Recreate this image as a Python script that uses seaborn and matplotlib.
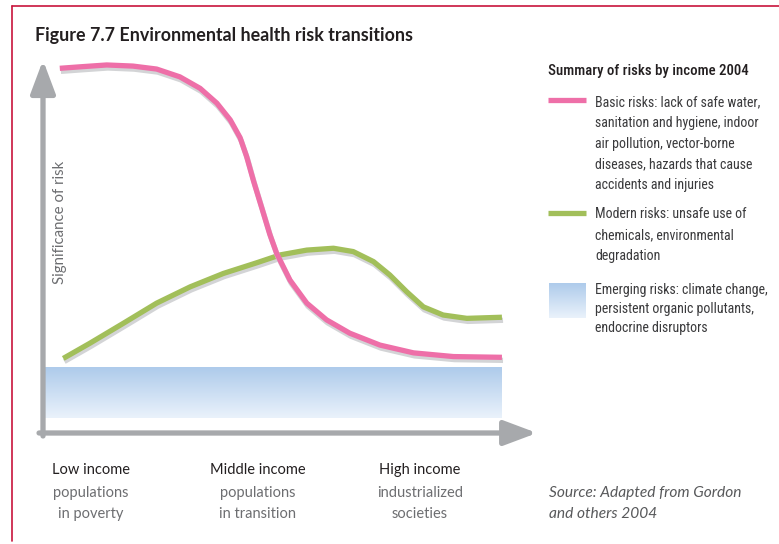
import numpy as np
import pandas as pd
import matplotlib
matplotlib.use("Agg")
import matplotlib.pyplot as plt
import matplotlib.patheffects as pe
from matplotlib import font_manager
import seaborn as sns

# Dados (escala arbitraria 0-100)
renda = [3.4, 7.5, 12.9, 18.2, 23.0, 27.7, 31.8, 35.2, 37.9, 39.9, 41.2, 42.6, 44.3, 45.9,
         47.3, 50.0, 53.4, 57.4, 62.1, 68.2, 75.0, 83.1, 92.9]
risco_basico = [98.3, 98.7, 99.2, 98.9, 98.1, 96.0, 92.9, 88.9, 84.4, 79.6, 74.6, 68.0, 60.6, 53.6,
                48.4, 41.2, 35.0, 30.5, 26.9, 23.7, 21.6, 20.6, 20.4]

renda_mod = [4.1, 9.5, 16.3, 23.0, 29.8, 36.5, 43.3, 48.0, 53.4, 58.8, 62.8, 66.9, 70.2, 73.6,
             77.0, 81.0, 85.8, 92.9]
risco_moderno = [20.1, 24.2, 29.6, 35.0, 39.4, 43.0, 45.9, 48.0, 49.3, 49.8, 48.9, 46.2, 42.6, 38.1,
                 34.0, 31.8, 30.9, 31.2]

faixa_emergente = (0.0, 92.9, 4.0, 17.5)  # x0, x1, y0, y1

niveis = ["Low income", "Middle income", "High income"]
niveis_pos = [9.7, 43.5, 76.3]
niveis_sub = [["populations", "in poverty"], ["populations", "in transition"], ["industrialized", "societies"]]

legenda_titulo = "Summary of risks by income 2004"
legenda_basico = ["Basic risks: lack of safe water,", "sanitation and hygiene, indoor",
                  "air pollution, vector-borne", "diseases, hazards that cause",
                  "accidents and injuries"]
legenda_moderno = ["Modern risks: unsafe use of", "chemicals, environmental", "degradation"]
legenda_emergente = ["Emerging risks: climate change,", "persistent organic pollutants,",
                     "endocrine disruptors"]

rosa = "#ee6fa8"
verde = "#a2bf5a"
cinza = "#a7a9ac"
sombra = "#d3d4d6"
borda = "#c8143c"

sns.set_style("white")
plt.rcParams["font.family"] = ["Lato", "DejaVu Sans"]

# fonte estreita para a legenda, se houver
nomes = {f.name for f in font_manager.fontManager.ttflist}
fam_leg, tam_leg, esticar = ["Lato", "DejaVu Sans"], 8.6, "normal"
for cand in ["Roboto Condensed", "Liberation Sans Narrow", "Open Sans Condensed", "DejaVu Sans Condensed"]:
    if cand in nomes:
        fam_leg, tam_leg = [cand, "DejaVu Sans"], 10
        break
else:
    achado = font_manager.findfont(font_manager.FontProperties(family="DejaVu Sans", stretch="condensed"))
    if "Condensed" in achado:
        fam_leg, tam_leg, esticar = ["DejaVu Sans"], 9.3, "condensed"

W, H = 779, 544
fig = plt.figure(figsize=(W / 100, H / 100), dpi=100)

# eixo de fundo em pixels para moldura, textos e legenda
bg = fig.add_axes([0, 0, 1, 1])

bg.plot([12, W], [6, 6], color=borda, lw=1.2)
bg.plot([12, 12], [6, 541], color=borda, lw=1.2)

bg.text(35, 35, "Figure 7.7 Environmental health risk transitions", fontsize=12.9,
        fontweight="bold", color="#231f20", va="center", ha="left")

# eixo principal
ax = fig.add_axes([43 / W, (H - 433) / H, (537 - 43) / W, (433 - 62) / H])

# faixa com gradiente (riscos emergentes)
x0, x1, y0, y1 = faixa_emergente
grad = np.linspace(0, 1, 100).reshape(-1, 1)
cmap = matplotlib.colors.LinearSegmentedColormap.from_list("azul", ["#eaf2fb", "#aecbeb"])
ax.imshow(grad, extent=(x0, x1, y0, y1), origin="lower", cmap=cmap, aspect="auto", zorder=1)

df_basico = pd.DataFrame({"renda": renda, "risco": risco_basico})
df_moderno = pd.DataFrame({"renda": renda_mod, "risco": risco_moderno})

efeito = [pe.SimpleLineShadow(offset=(0.8, -2.2), shadow_color=sombra, alpha=1), pe.Normal()]
sns.lineplot(data=df_moderno, x="renda", y="risco", ax=ax, color=verde, lw=3.8,
             path_effects=efeito, zorder=3, solid_capstyle="butt", solid_joinstyle="round")
sns.lineplot(data=df_basico, x="renda", y="risco", ax=ax, color=rosa, lw=3.8,
             path_effects=efeito, zorder=4, solid_capstyle="butt", solid_joinstyle="round")
ax.set_xlim(0, 100)
ax.set_ylim(0, 100)
ax.axis("off")

# setas dos eixos
seta = dict(arrowstyle="-|>,head_length=20,head_width=7.5", color=cinza, lw=3.8,
            shrinkA=0, shrinkB=0, mutation_scale=1)
ax.annotate("", xy=(0, 1.005), xytext=(0, -0.008), xycoords="axes fraction", arrowprops=seta)
ax.annotate("", xy=(1.0, 0), xytext=(-0.008, 0), xycoords="axes fraction", arrowprops=seta)

ax.text(0.034, 0.569, "Significance of risk", rotation=90, transform=ax.transAxes,
        fontsize=10.8, color="#6d6e71", ha="center", va="center")

# rotulos de renda
for pos, nome, sub in zip(niveis_pos, niveis, niveis_sub):
    px = 43 + pos / 100 * 494
    bg.text(px, 470, nome, fontsize=10.5, color="#231f20", ha="center", va="center")
    for i, linha in enumerate(sub):
        bg.text(px, 493 + i * 21, linha, fontsize=10.5, color="#6d6e71", ha="center", va="center")

# legenda
bg.text(548, 71, legenda_titulo, fontsize=tam_leg + 0.7, color="#231f20", ha="left", va="center",
        family=fam_leg, fontstretch=esticar, fontweight="medium")
bg.plot([548, 586], [100, 100], color=rosa, lw=3.8, solid_capstyle="butt")
bg.plot([548, 586], [213, 213], color=verde, lw=3.8, solid_capstyle="butt")
bg.imshow(grad, extent=(549, 586, 318, 283), origin="lower", cmap=cmap, aspect="auto")

for inicio, linhas, passo in [(102, legenda_basico, 20.8), (214, legenda_moderno, 21),
                              (290, legenda_emergente, 19)]:
    for i, linha in enumerate(linhas):
        bg.text(595, inicio + i * passo, linha, fontsize=tam_leg, color="#3a3a3c", ha="left",
                va="center", family=fam_leg, fontstretch=esticar)

bg.text(549, 493, "Source: Adapted from Gordon", fontsize=11.2, color="#58595b",
        style="italic", ha="left", va="center")
bg.text(549, 514, "and others 2004", fontsize=11.2, color="#58595b",
        style="italic", ha="left", va="center")

bg.set_xlim(0, W)
bg.set_ylim(H, 0)
bg.axis("off")

fig.savefig("out.png", dpi=100)
